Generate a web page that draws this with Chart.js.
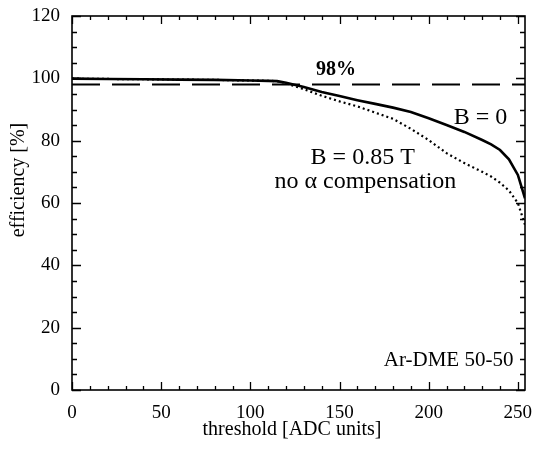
<!DOCTYPE html>
<html>
<head>
<meta charset="utf-8">
<script src="https://cdn.jsdelivr.net/npm/chart.js@4.4.0/dist/chart.umd.min.js"></script>
<style>
  html, body { margin: 0; padding: 0; background: #fff; }
</style>
</head>
<body>
<canvas id="effChart" width="535" height="449"></canvas>
<script>
// ---------- Data ----------
const thresholds = [0, 20, 40, 60, 80, 100, 110, 115, 120, 130, 140, 150, 160, 170, 180, 190, 200, 210, 220, 230, 235, 240, 245, 250, 254];
const effB0      = [99.9, 99.8, 99.7, 99.6, 99.5, 99.3, 99.2, 99.1, 98.6, 97.2, 95.6, 94.3, 93.0, 91.8, 90.6, 89.2, 87.2, 85.0, 82.8, 80.2, 78.8, 77.0, 74.0, 69.0, 61.5];
const effB085    = [99.9, 99.8, 99.7, 99.6, 99.5, 99.3, 99.2, 99.1, 98.4, 96.5, 94.4, 92.6, 91.0, 89.0, 87.0, 83.8, 80.2, 76.0, 72.8, 70.0, 68.5, 66.5, 64.0, 60.0, 53.0];
const refLevel   = 98;
const xTicks     = [0, 50, 100, 150, 200, 250];
const yTicks     = [0, 20, 40, 60, 80, 100, 120];

const SERIF = "'Liberation Serif', 'DejaVu Serif', serif";

// --- Helpers ---
function toPoints(xs, ys) {
  return xs.map((x, i) => ({ x: x, y: ys[i] }));
}

// frame, inward ticks, axis titles and annotations
const framePlugin = {
  id: "frame",
  afterDraw(chart) {
    const ctx = chart.ctx;
    const { left, right, top, bottom } = chart.chartArea;
    const xs = chart.scales.x, ys = chart.scales.y;
    ctx.save();
    ctx.strokeStyle = "#000";

    // inward ticks, major and minor
    ctx.lineWidth = 1.3;
    ctx.beginPath();
    for (let v = 0; v <= 250; v += 10) {
      const px = Math.round(xs.getPixelForValue(v)) + 0.5;
      const len = v % 50 === 0 ? 8 : 4;
      ctx.moveTo(px, bottom); ctx.lineTo(px, bottom - len);
      ctx.moveTo(px, top); ctx.lineTo(px, top + len);
    }
    for (let v = 0; v <= 120; v += 5) {
      const py = Math.round(ys.getPixelForValue(v)) + 0.5;
      const len = v % 20 === 0 ? 9 : 5;
      ctx.moveTo(left, py); ctx.lineTo(left + len, py);
      ctx.moveTo(right, py); ctx.lineTo(right - len, py);
    }
    ctx.stroke();

    // box
    ctx.lineWidth = 1.6;
    ctx.strokeRect(left, top, right - left, bottom - top);

    ctx.fillStyle = "#000";
    ctx.textBaseline = "middle";
    ctx.textAlign = "center";

    // axis titles
    ctx.font = "20px " + SERIF;
    ctx.fillText("threshold [ADC units]", 292, 430);
    ctx.save();
    ctx.translate(19, 180);
    ctx.rotate(-Math.PI / 2);
    ctx.fillText("efficiency [%]", 0, 0);
    ctx.restore();

    // annotations
    ctx.font = "bold 20px " + SERIF;
    ctx.fillText("98%", xs.getPixelForValue(148), ys.getPixelForValue(102.6));
    ctx.font = "24px " + SERIF;
    ctx.fillText("B = 0", xs.getPixelForValue(229), ys.getPixelForValue(87.5));
    ctx.fillText("B = 0.85 T", xs.getPixelForValue(163), ys.getPixelForValue(74.5));
    ctx.fillText("no \u03b1 compensation", xs.getPixelForValue(164.5), ys.getPixelForValue(66.8));
    ctx.textAlign = "right";
    ctx.font = "21px " + SERIF;
    ctx.fillText("Ar-DME 50-50", xs.getPixelForValue(247.5), ys.getPixelForValue(9.5));
    ctx.restore();
  }
};

// ---------- Chart ----------
new Chart(document.getElementById("effChart"), {
  type: "line",
  data: {
    datasets: [
      {
        label: "98%",
        data: toPoints([0, 254], [refLevel, refLevel]),
        borderColor: "#000",
        borderWidth: 2,
        borderDash: [28, 12],
        pointRadius: 0,
        tension: 0
      },
      {
        label: "B = 0",
        data: toPoints(thresholds, effB0),
        borderColor: "#000",
        borderWidth: 2.6,
        pointRadius: 0,
        tension: 0
      },
      {
        label: "B = 0.85 T",
        data: toPoints(thresholds, effB085),
        borderColor: "#000",
        borderWidth: 2.2,
        borderDash: [2, 3],
        pointRadius: 0,
        tension: 0
      }
    ]
  },
  options: {
    responsive: false,
    animation: false,
    layout: { padding: { top: 16, right: 10, left: 0, bottom: 0 } },
    plugins: {
      legend: { display: false },
      tooltip: { enabled: false }
    },
    scales: {
      x: {
        type: "linear",
        min: 0,
        max: 254,
        grid: { display: false, drawTicks: false },
        border: { display: false },
        afterBuildTicks: s => { s.ticks = xTicks.map(v => ({ value: v })); },
        afterFit: s => { s.height = 59; s.paddingLeft = 0; s.paddingRight = 0; },
        ticks: {
          color: "#000",
          padding: 12,
          maxRotation: 0,
          autoSkip: false,
          font: { family: SERIF, size: 19 }
        }
      },
      y: {
        min: 0,
        max: 120,
        grid: { display: false, drawTicks: false },
        border: { display: false },
        afterBuildTicks: s => { s.ticks = yTicks.map(v => ({ value: v })); },
        afterFit: s => { s.width = 72; s.paddingTop = 0; s.paddingBottom = 0; },
        ticks: {
          color: "#000",
          padding: 12,
          autoSkip: false,
          font: { family: SERIF, size: 19 }
        }
      }
    }
  },
  plugins: [framePlugin]
});
</script>
</body>
</html>
